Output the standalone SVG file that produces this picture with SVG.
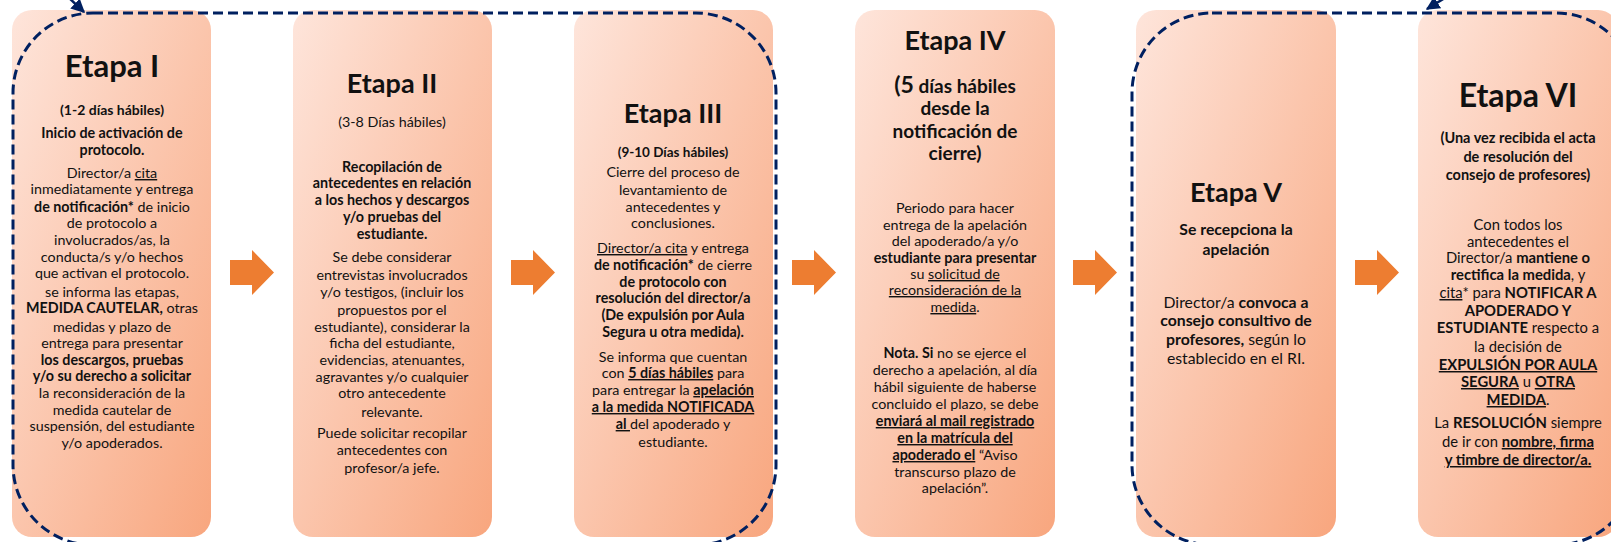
<svg xmlns="http://www.w3.org/2000/svg" xmlns:xlink="http://www.w3.org/1999/xlink" width="1611" height="542" viewBox="0 0 1611 542">
<defs>
<linearGradient id="g" x1="0" y1="0" x2="1" y2="1">
<stop offset="0" stop-color="#FEE5DB"/>
<stop offset="1" stop-color="#F8A67E"/>
</linearGradient>
<marker id="ah" viewBox="0 0 10 10" refX="9" refY="5" markerWidth="5.5" markerHeight="5.5" orient="auto" markerUnits="strokeWidth">
<path d="M0,0 L10,5 L0,10 z" fill="#002060"/>
</marker>
<path id="oa" d="M-22,260 L0,260 L0,250 L22,272.5 L0,295 L0,285 L-22,285 z" fill="#ED7D31"/>
</defs>
<style>
.box{fill:url(#g);}
text{font-family:Lato,"Open Sans","Liberation Sans",sans-serif;text-anchor:middle;fill:#111;font-size:14.3px;}
.s5 text{font-size:15.8px;}
.s6 text{font-size:14.8px;}
.h{font-weight:bold;}
.b{font-weight:bold;}
.u{text-decoration:underline;}
.loop{fill:none;stroke:#002060;stroke-width:3;stroke-dasharray:10 5;}
.tip{fill:none;stroke:#002060;stroke-width:2.5;}
</style>

<g id="etapa1">
<rect class="box" x="12" y="10" width="199" height="527" rx="20"/>
<text x="112" y="77" class="h" style="font-size:31px">Etapa I</text>
<text x="112" y="115" class="b" style="font-size:14px">(1-2 días hábiles)</text>
<text x="112" y="138" class="b">Inicio de activación de</text>
<text x="112" y="155" class="b">protocolo.</text>
<text x="112" y="178">Director/a <tspan class="u">cita</tspan></text>
<text x="112" y="194">inmediatamente y entrega</text>
<text x="112" y="212"><tspan class="b">de notificación*</tspan> de inicio</text>
<text x="112" y="228">de protocolo a</text>
<text x="112" y="245">involucrados/as, la</text>
<text x="112" y="262">conducta/s y/o hechos</text>
<text x="112" y="278">que activan el protocolo.</text>
<text x="112" y="297">se informa las etapas,</text>
<text x="112" y="313"><tspan class="b">MEDIDA CAUTELAR,</tspan> otras</text>
<text x="112" y="332">medidas y plazo de</text>
<text x="112" y="348">entrega para presentar</text>
<text x="112" y="365" class="b">los descargos, pruebas</text>
<text x="112" y="381" class="b">y/o su derecho a solicitar</text>
<text x="112" y="398">la reconsideración de la</text>
<text x="112" y="415">medida cautelar de</text>
<text x="112" y="431">suspensión, del estudiante</text>
<text x="112" y="448">y/o apoderados.</text>
</g>

<g id="etapa2">
<rect class="box" x="293" y="10" width="199" height="527" rx="20"/>
<text x="392" y="93" class="h" style="font-size:27px">Etapa II</text>
<text x="392" y="127" style="font-size:14.3px">(3-8 Días hábiles)</text>
<text x="392" y="172" class="b">Recopilación de</text>
<text x="392" y="188" class="b">antecedentes en relación</text>
<text x="392" y="205" class="b">a los hechos y descargos</text>
<text x="392" y="222" class="b">y/o pruebas del</text>
<text x="392" y="239" class="b">estudiante.</text>
<text x="392" y="262">Se debe considerar</text>
<text x="392" y="280">entrevistas involucrados</text>
<text x="392" y="297">y/o testigos, (incluir los</text>
<text x="392" y="315">propuestos por el</text>
<text x="392" y="332">estudiante), considerar la</text>
<text x="392" y="348">ficha del estudiante,</text>
<text x="392" y="365">evidencias, atenuantes,</text>
<text x="392" y="382">agravantes y/o cualquier</text>
<text x="392" y="398">otro antecedente</text>
<text x="392" y="417">relevante.</text>
<text x="392" y="438">Puede solicitar recopilar</text>
<text x="392" y="455">antecedentes con</text>
<text x="392" y="473">profesor/a jefe.</text>
</g>

<g id="etapa3">
<rect class="box" x="574" y="10" width="199" height="527" rx="20"/>
<text x="673" y="123" class="h" style="font-size:27px">Etapa III</text>
<text x="673" y="157" class="b" style="font-size:13.5px">(9-10 Días hábiles)</text>
<text x="673" y="177">Cierre del proceso de</text>
<text x="673" y="195">levantamiento de</text>
<text x="673" y="212">antecedentes y</text>
<text x="673" y="228">conclusiones.</text>
<text x="673" y="253"><tspan class="u">Director/a cita</tspan> y entrega</text>
<text x="673" y="270"><tspan class="b">de notificación*</tspan> de cierre</text>
<text x="673" y="287" class="b">de protocolo con</text>
<text x="673" y="303" class="b">resolución del director/a</text>
<text x="673" y="320" class="b">(De expulsión por Aula</text>
<text x="673" y="337" class="b">Segura u otra medida).</text>
<text x="673" y="362">Se informa que cuentan</text>
<text x="673" y="378">con <tspan class="b u">5 días hábiles</tspan> para</text>
<text x="673" y="395">para entregar la <tspan class="b u">apelación</tspan></text>
<text x="673" y="412" class="b u">a la medida NOTIFICADA</text>
<text x="673" y="429"><tspan class="b u">al </tspan>del apoderado y</text>
<text x="673" y="447">estudiante.</text>
</g>

<g id="etapa4">
<rect class="box" x="855" y="10" width="200" height="527" rx="20"/>
<text x="955" y="50" class="h" style="font-size:27px">Etapa IV</text>
<text x="955" y="93" class="b" style="font-size:19px"><tspan style="font-size:23px">(5</tspan> días hábiles</text>
<text x="955" y="115" class="b" style="font-size:19px">desde la</text>
<text x="955" y="138" class="b" style="font-size:19px">notificación de</text>
<text x="955" y="160" class="b" style="font-size:19px">cierre)</text>
<text x="955" y="213">Periodo para hacer</text>
<text x="955" y="230">entrega de la apelación</text>
<text x="955" y="246">del apoderado/a y/o</text>
<text x="955" y="263" class="b">estudiante para presentar</text>
<text x="955" y="279">su <tspan class="u">solicitud de</tspan></text>
<text x="955" y="295" class="u">reconsideración de la</text>
<text x="955" y="312"><tspan class="u">medida</tspan>.</text>
<text x="955" y="358"><tspan class="b">Nota. Si</tspan> no se ejerce el</text>
<text x="955" y="375">derecho a apelación, al día</text>
<text x="955" y="392">hábil siguiente de haberse</text>
<text x="955" y="409">concluido el plazo, se debe</text>
<text x="955" y="426" class="b u">enviará al mail registrado</text>
<text x="955" y="443" class="b u">en la matrícula del</text>
<text x="955" y="460"><tspan class="b u">apoderado el</tspan> “Aviso</text>
<text x="955" y="477">transcurso plazo de</text>
<text x="955" y="493">apelación”.</text>
</g>

<g id="etapa5" class="s5">
<rect class="box" x="1136" y="10" width="200" height="527" rx="20"/>
<text x="1236" y="202" class="h" style="font-size:27px">Etapa V</text>
<text x="1236" y="235" class="b">Se recepciona la</text>
<text x="1236" y="255" class="b">apelación</text>
<text x="1236" y="308">Director/a <tspan class="b">convoca a</tspan></text>
<text x="1236" y="326" class="b">consejo consultivo de</text>
<text x="1236" y="345"><tspan class="b">profesores,</tspan> según lo</text>
<text x="1236" y="364">establecido en el RI.</text>
</g>

<g id="etapa6" class="s6">
<rect class="box" x="1418" y="10" width="200" height="527" rx="20"/>
<text x="1518" y="107" class="h" style="font-size:32px">Etapa VI</text>
<text x="1518" y="143" class="b" style="font-size:14.5px">(Una vez recibida el acta</text>
<text x="1518" y="162" class="b" style="font-size:14.5px">de resolución del</text>
<text x="1518" y="180" class="b" style="font-size:14.5px">consejo de profesores)</text>
<text x="1518" y="230">Con todos los</text>
<text x="1518" y="247">antecedentes el</text>
<text x="1518" y="263">Director/a <tspan class="b">mantiene o</tspan></text>
<text x="1518" y="280"><tspan class="b">rectifica la medida</tspan>, y</text>
<text x="1518" y="298"><tspan class="u">cita</tspan>* para <tspan class="b">NOTIFICAR A</tspan></text>
<text x="1518" y="316" class="b">APODERADO Y</text>
<text x="1518" y="333"><tspan class="b">ESTUDIANTE</tspan> respecto a</text>
<text x="1518" y="352">la decisión de</text>
<text x="1518" y="370" class="b u">EXPULSIÓN POR AULA</text>
<text x="1518" y="387"><tspan class="b u">SEGURA</tspan> u <tspan class="b u">OTRA</tspan></text>
<text x="1518" y="405"><tspan class="b u">MEDIDA</tspan>.</text>
<text x="1518" y="428">La <tspan class="b">RESOLUCIÓN</tspan> siempre</text>
<text x="1518" y="447">de ir con <tspan class="b u">nombre, firma</tspan></text>
<text x="1518" y="465" class="b u">y timbre de director/a.</text>
</g>

<g id="connectors">
<use xlink:href="#oa" x="252"/>
<use xlink:href="#oa" x="533"/>
<use xlink:href="#oa" x="814"/>
<use xlink:href="#oa" x="1095"/>
<use xlink:href="#oa" x="1377"/>
<rect class="loop" x="13" y="13" width="763" height="532" rx="80"/>
<rect class="loop" x="1132" y="13" width="504" height="532" rx="80"/>
<path class="tip" d="M67,-4 L84,12" marker-end="url(#ah)"/>
<path class="tip" d="M1448,-4 L1427,9" marker-end="url(#ah)"/>
</g>
</svg>
